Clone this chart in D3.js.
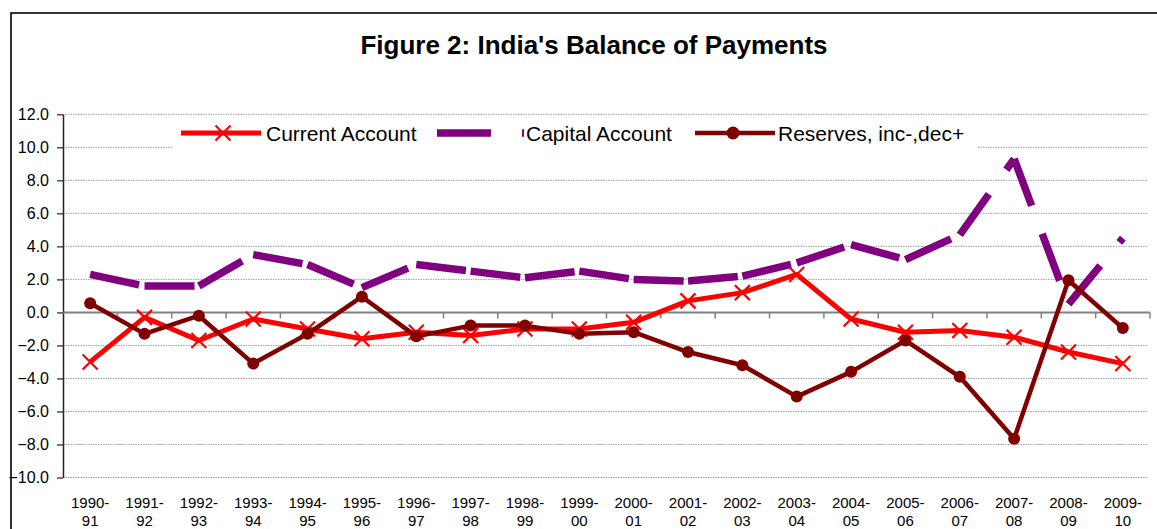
<!DOCTYPE html>
<html>
<head>
<meta charset="utf-8">
<script src="https://cdn.jsdelivr.net/npm/d3@7"></script>
<style>
  html, body { margin: 0; padding: 0; background: #fff; }
  svg { display: block; font-family: "Liberation Sans", Arial, sans-serif; }
</style>
</head>
<body>
<svg id="chart" width="1157" height="529"></svg>
<script>
const categories = ["1990-91","1991-92","1992-93","1993-94","1994-95","1995-96","1996-97","1997-98","1998-99","1999-00",
                    "2000-01","2001-02","2002-03","2003-04","2004-05","2005-06","2006-07","2007-08","2008-09","2009-10"];
const currentAccount = [-3.0,-0.3,-1.7,-0.4,-1.0,-1.6,-1.2,-1.4,-1.0,-1.0,-0.6,0.7,1.2,2.3,-0.4,-1.2,-1.1,-1.5,-2.4,-3.1];
const capitalAccount = [2.3,1.6,1.6,3.5,2.9,1.5,2.9,2.5,2.1,2.5,2.0,1.9,2.2,3.0,4.1,3.2,4.7,9.3,0.5,4.5];
const reserves = [0.55,-1.3,-0.2,-3.1,-1.3,0.95,-1.45,-0.8,-0.8,-1.3,-1.2,-2.4,-3.2,-5.1,-3.6,-1.7,-3.9,-7.65,1.95,-0.95];
const yTicks = [-10,-8,-6,-4,-2,0,2,4,6,8,10,12];
const seriesNames = ["Current Account","Capital Account","Reserves, inc-,dec+"];
const title = "Figure 2: India's Balance of Payments";

(function () {
const svg = d3.select("#chart");
const pLeft = 63, pRight = 1150, pTop = 114.3, pBottom = 477.5;

const x = d3.scaleBand().domain(categories).range([pLeft, pRight]).padding(0);
const y = d3.scaleLinear().domain([-10, 12]).range([pBottom, pTop]);
const cx = c => x(c) + x.bandwidth() / 2;

// outer border
svg.append("rect").attr("x", 11).attr("y", 13).attr("width", 1300).attr("height", 700)
  .attr("fill", "#fff").attr("stroke", "#000").attr("stroke-width", 1.6);

// title
svg.append("text").attr("x", 594).attr("y", 54).attr("text-anchor", "middle")
  .attr("font-size", 26).attr("font-weight", "bold").attr("fill", "#000").text(title);

// gridlines
svg.append("g").selectAll("line").data(yTicks.filter(d => d !== 0)).join("line")
  .attr("x1", pLeft).attr("x2", pRight - 2)
  .attr("y1", d => y(d)).attr("y2", d => y(d))
  .attr("stroke", "#a0a0a0").attr("stroke-width", 1).attr("stroke-dasharray", "1.5,1");

// y axis
const yAxis = svg.append("g").attr("transform", `translate(${pLeft},0)`)
  .call(d3.axisLeft(y).tickValues(yTicks).tickFormat(d3.format(".1f")).tickSize(6).tickSizeOuter(0));
yAxis.attr("font-size", 16).attr("font-family", "Liberation Sans, Arial, sans-serif");
yAxis.select(".domain").attr("stroke", "#222").attr("stroke-width", 1.5);
yAxis.selectAll(".tick line").attr("stroke", "#222").attr("stroke-width", 1.2);
yAxis.selectAll(".tick text").attr("fill", "#000").attr("x", -14).attr("dy", "0.3em");

// zero axis line with tick marks at category boundaries
const xg = svg.append("g");
xg.append("line").attr("x1", pLeft).attr("x2", pRight).attr("y1", y(0)).attr("y2", y(0))
  .attr("stroke", "#808080").attr("stroke-width", 2);
xg.selectAll("line.tk").data(categories.slice(1).concat(["__end"])).join("line").attr("class", "tk")
  .attr("x1", d => d === "__end" ? pRight : x(d)).attr("x2", d => d === "__end" ? pRight : x(d))
  .attr("y1", y(0)).attr("y2", y(0) + 6)
  .attr("stroke", "#808080").attr("stroke-width", 1.5);

// x labels
const xl = svg.append("g").selectAll("text").data(categories).join("text")
  .attr("x", d => cx(d)).attr("text-anchor", "middle").attr("font-size", 15).attr("fill", "#000");
xl.append("tspan").attr("x", d => cx(d)).attr("y", 508).text(d => d.split("-")[0] + "-");
xl.append("tspan").attr("x", d => cx(d)).attr("y", 526).text(d => d.split("-")[1]);

// legend background
svg.append("rect").attr("x", 172).attr("y", 118).attr("width", 805).attr("height", 32).attr("fill", "#fff");

const line = d3.line().x((d, i) => cx(categories[i])).y(d => y(d));

// capital account (dashed, pattern restarts on each segment)
const capSegs = d3.pairs(capitalAccount.map((v, i) => [categories[i], v]));
svg.append("g").selectAll("line").data(capSegs).join("line")
  .attr("x1", d => cx(d[0][0])).attr("y1", d => y(d[0][1]))
  .attr("x2", d => cx(d[1][0])).attr("y2", d => y(d[1][1]))
  .attr("stroke", "#800080").attr("stroke-width", 7.5).attr("stroke-linecap", "butt")
  .attr("stroke-dasharray", "50,30");

// current account
svg.append("path").datum(currentAccount).attr("d", line)
  .attr("fill", "none").attr("stroke", "#ff0000").attr("stroke-width", 5).attr("stroke-linejoin", "round");
const crossPath = (s) => `M${-s},${-s}L${s},${s}M${-s},${s}L${s},${-s}`;
svg.append("g").selectAll("path").data(currentAccount).join("path")
  .attr("transform", (d, i) => `translate(${cx(categories[i])},${y(d)})`)
  .attr("d", crossPath(7.5)).attr("stroke", "#ff0000").attr("stroke-width", 2.2).attr("fill", "none");

// reserves
svg.append("path").datum(reserves).attr("d", line)
  .attr("fill", "none").attr("stroke", "#800000").attr("stroke-width", 4.5).attr("stroke-linejoin", "round");
svg.append("g").selectAll("circle").data(reserves).join("circle")
  .attr("cx", (d, i) => cx(categories[i])).attr("cy", d => y(d)).attr("r", 6).attr("fill", "#800000");

// legend
const ly = 133, lfs = 21;
const lg = svg.append("g");
lg.append("line").attr("x1", 181).attr("x2", 261).attr("y1", ly).attr("y2", ly)
  .attr("stroke", "#ff0000").attr("stroke-width", 5);
lg.append("path").attr("transform", `translate(223,${ly})`).attr("d", crossPath(7.5))
  .attr("stroke", "#ff0000").attr("stroke-width", 2.2).attr("fill", "none");
lg.append("text").attr("x", 266).attr("y", ly).attr("dy", "0.36em").attr("font-size", lfs).text(seriesNames[0]);

lg.append("line").attr("x1", 437).attr("x2", 524).attr("y1", ly).attr("y2", ly)
  .attr("stroke", "#800080").attr("stroke-width", 7.5).attr("stroke-dasharray", "54,31");
lg.append("text").attr("x", 526).attr("y", ly).attr("dy", "0.36em").attr("font-size", lfs).text(seriesNames[1]);

lg.append("line").attr("x1", 695).attr("x2", 775).attr("y1", ly).attr("y2", ly)
  .attr("stroke", "#800000").attr("stroke-width", 4.5);
lg.append("circle").attr("cx", 733).attr("cy", ly).attr("r", 6.5).attr("fill", "#800000");
lg.append("text").attr("x", 778).attr("y", ly).attr("dy", "0.36em").attr("font-size", lfs).text(seriesNames[2]);
})();
</script>
</body>
</html>
